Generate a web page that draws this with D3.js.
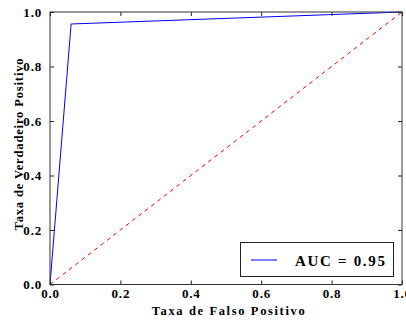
<!DOCTYPE html>
<html><head><meta charset="utf-8">
<script src="https://cdn.jsdelivr.net/npm/d3@7"></script>
<style>body{margin:0;background:#fff}svg{display:block}</style>
</head><body>
<script>
const rocFPR = [0.0, 0.06, 1.0];
const rocTPR = [0.0, 0.956, 1.0];
const diagX = [0, 1];
const diagY = [0, 1];
const tickVals = [0, 0.2, 0.4, 0.6, 0.8, 1.0];
const tickLabels = ["0.0","0.2","0.4","0.6","0.8","1.0"];
const legendLabel = "AUC = 0.95";
const xLabel = "Taxa de Falso Positivo";
const yLabel = "Taxa de Verdadeiro Positivo";

const W = 406, H = 320;
const L = 50, R = 402, T = 12, B = 284.5;
const font = "'Liberation Serif', 'DejaVu Serif', serif";

const svg = d3.select("body").append("svg").attr("width", W).attr("height", H);
const x = d3.scaleLinear().domain([0,1]).range([L,R]);
const y = d3.scaleLinear().domain([0,1]).range([B,T]);

function fitSpacing(sel, target) {
  const w = sel.node().getComputedTextLength();
  const n = sel.text().length;
  sel.attr("letter-spacing", (target - w) / (n - 1));
}

const line = d3.line().x(d=>x(d[0])).y(d=>y(d[1]));

svg.append("path").datum(diagX.map((v,i)=>[v,diagY[i]]))
  .attr("d", line).attr("fill","none").attr("stroke","#ff0000")
  .attr("stroke-width",1).attr("stroke-dasharray","4,4");
svg.append("path").datum(rocFPR.map((v,i)=>[v,rocTPR[i]]))
  .attr("d", line).attr("fill","none").attr("stroke","#0000ff").attr("stroke-width",1);

const fmt = (d)=>tickLabels[tickVals.indexOf(d)];
const ax = [
  {g: d3.axisBottom(x), t: `translate(0,${B})`, inner: true, pad: 4},
  {g: d3.axisTop(x), t: `translate(0,${T})`, inner: false, pad: 4},
  {g: d3.axisLeft(y), t: `translate(${L},0)`, inner: true, pad: 8},
  {g: d3.axisRight(y), t: `translate(${R},0)`, inner: false, pad: 4}
];
ax.forEach(a=>{
  const gen = a.g.tickValues(tickVals).tickSizeInner(-4).tickSizeOuter(0).tickPadding(a.pad)
    .tickFormat(a.inner ? fmt : ()=>"");
  const g = svg.append("g").attr("transform", a.t).call(gen);
  g.select(".domain").remove();
  g.selectAll("line").attr("stroke","#222");
  g.selectAll("text").attr("font-family", font).attr("font-weight","bold")
    .attr("font-size", 13).attr("fill","#000").attr("letter-spacing", 0.8);
});

svg.append("rect").attr("x",L).attr("y",T).attr("width",R-L).attr("height",B-T)
  .attr("fill","none").attr("stroke","#333").attr("stroke-width",1);

const xl = svg.append("text").attr("x",229).attr("y",315).attr("text-anchor","middle")
  .attr("font-family",font).attr("font-weight","bold").attr("font-size",12.5).text(xLabel);
fitSpacing(xl, 153);
const yl = svg.append("text").attr("transform",`translate(23,144) rotate(-90)`).attr("text-anchor","middle")
  .attr("font-family",font).attr("font-weight","bold").attr("font-size",12.5).text(yLabel);
fitSpacing(yl, 172);

const lg = svg.append("g");
lg.append("rect").attr("x",240.5).attr("y",242.5).attr("width",153).attr("height",34)
  .attr("fill","#fff").attr("stroke","#222").attr("stroke-width",1);
lg.append("line").attr("x1",251).attr("x2",277).attr("y1",260).attr("y2",260)
  .attr("stroke","#0000ff").attr("stroke-width",1);
const lt = lg.append("text").attr("x",295).attr("y",266).attr("font-family",font).attr("font-weight","bold")
  .attr("font-size",15).text(legendLabel);
fitSpacing(lt, 90);
</script>
</body></html>
